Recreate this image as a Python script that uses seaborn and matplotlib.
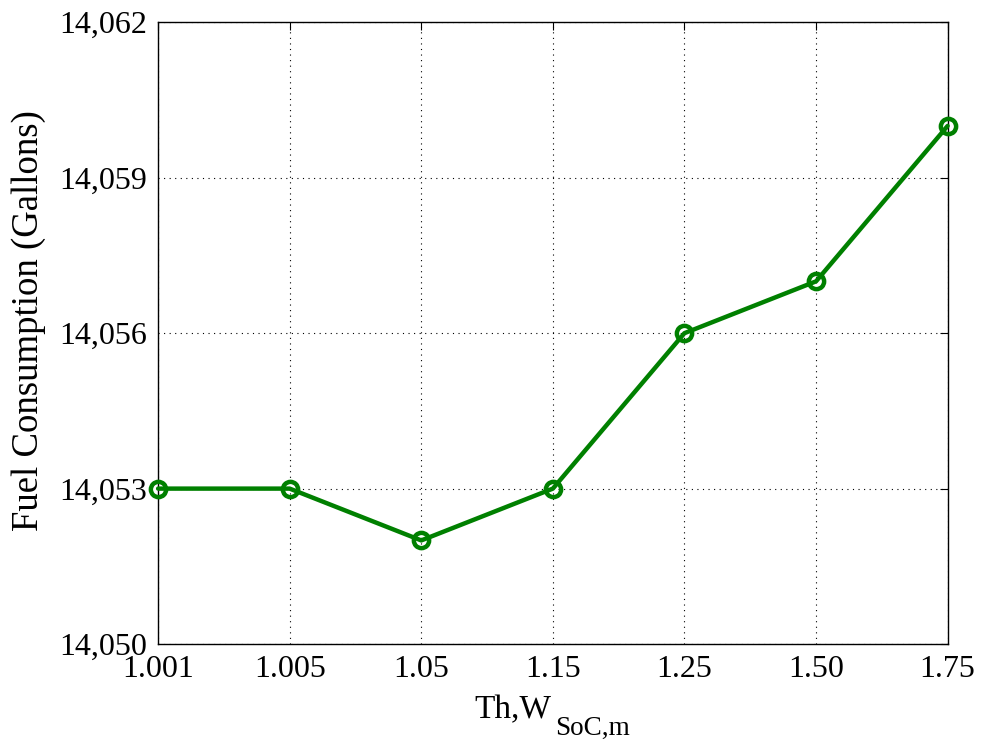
import matplotlib
matplotlib.use("Agg")
import matplotlib.pyplot as plt
import matplotlib.ticker as mticker
import seaborn as sns
import pandas as pd

# Threshold values for W_SoC,m and resulting fuel use
thresholds = ["1.001", "1.005", "1.05", "1.15", "1.25", "1.50", "1.75"]
fuel_gallons = [14053, 14053, 14052, 14053, 14056, 14057, 14060]
y_ticks = [14050, 14053, 14056, 14059, 14062]

df = pd.DataFrame({"pos": range(len(thresholds)), "fuel": fuel_gallons})

sns.set_theme(style="white")
plt.rcParams["font.family"] = ["Liberation Serif", "DejaVu Serif"]
plt.rcParams["text.color"] = "black"
plt.rcParams["axes.labelcolor"] = "black"

fig, ax = plt.subplots(figsize=(9.82, 7.42), dpi=100)
fig.subplots_adjust(left=0.161, right=0.965, top=0.970, bottom=0.132)

sns.lineplot(data=df, x="pos", y="fuel", ax=ax, color="#008000", linewidth=3.2,
             marker="o", markersize=11, markerfacecolor="none",
             markeredgecolor="#008000", markeredgewidth=3.2, zorder=3,
             clip_on=False)

ax.set_xlim(0, len(thresholds) - 1)
ax.set_ylim(y_ticks[0], y_ticks[-1])
ax.set_xticks(range(len(thresholds)))
ax.set_xticklabels(thresholds)
ax.set_yticks(y_ticks)
ax.yaxis.set_major_formatter(mticker.FuncFormatter(lambda v, p: f"{int(v):,}"))

ax.grid(True, linestyle=(0, (1, 4)), color="black", linewidth=0.8)
for s in ax.spines.values():
    s.set_color("black")
    s.set_linewidth(1.0)
ax.tick_params(direction="in", length=6, width=0.8, labelsize=23, colors="black",
               top=True, right=True, pad=8)

# x label with a large, low-set subscript
ax.set_xlabel("")
ax.annotate("Th,W", xy=(0.5, 0), xycoords="axes fraction",
            xytext=(-1, -74), textcoords="offset pixels",
            ha="right", va="baseline", fontsize=24)
ax.annotate("SoC,m", xy=(0.5, 0), xycoords="axes fraction",
            xytext=(2, -91), textcoords="offset pixels",
            ha="left", va="baseline", fontsize=19.5)

ax.set_ylabel("Fuel Consumption (Gallons)", fontsize=26.5)
ax.yaxis.set_label_coords(-0.142, 0.52)

fig.savefig("out.png", dpi=100)
